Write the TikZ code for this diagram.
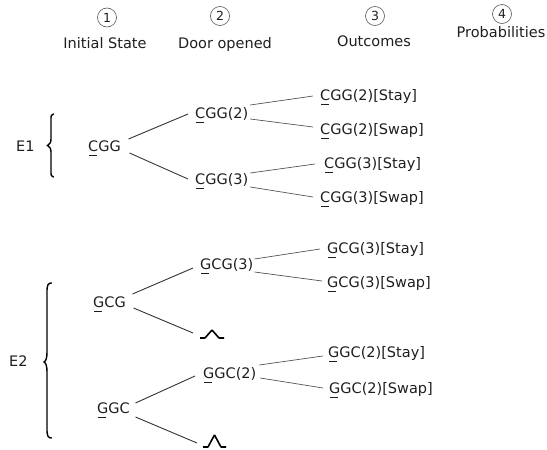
\documentclass[tikz,border=0pt]{standalone}
\usepackage{fontspec}
\setmainfont{DejaVu Sans}
\newcommand\fl[1]{\makebox[0pt][l]{\hspace{1pt}\smash{\rule[-4.5pt]{7.5pt}{0.8pt}}}#1}
\definecolor{txt}{HTML}{1E1E1E}
\definecolor{ln}{HTML}{333333}
\definecolor{lnb}{HTML}{555555}
\begin{document}
\begin{tikzpicture}[x=1pt,y=-1pt,
 lbl/.style={inner sep=0pt,text height=11pt,text depth=3pt,anchor=base west,font=\fontsize{14.5}{16}\selectfont,text=txt},
 hdr/.style={inner sep=0pt,anchor=base,font=\fontsize{14.5}{16}\selectfont,text=txt},
 num/.style={circle,draw=lnb,line width=0.6pt,minimum size=19pt,inner sep=0pt,font=\fontsize{12.5}{14}\selectfont,text=txt},
 edgeA/.style={draw=ln,line width=0.9pt},
 edgeB/.style={draw=lnb,line width=0.7pt},
 hat/.style={draw=black,line width=1.6pt,rounded corners=0.4pt},
 brc/.style={draw=black,line width=1.4pt,line cap=round}]
\useasboundingbox (0,0) rectangle (547,450);

% header
\node[num] (n1) at (107,17.5) {1};
\node[num] (n2) at (220,16) {2};
\node[num] (n3) at (375,16) {3};
\node[num] (n4) at (502,14) {4};
\node[hdr] (t1) at (105,48) {Initial State};
\node[hdr] (t2) at (225,48) {Door opened};
\node[hdr] (t3) at (374,46) {Outcomes};
\node[hdr] (t4) at (501,37) {Probabilities};

% E1
\node[lbl] (e1) at (16,151) {E1};
\draw[brc] (53.5,114) .. controls (51,114) and (51,116) .. (51,120) -- (51,139)
  .. controls (51,143) and (49.5,144) .. (47.5,145.5)
  .. controls (49.5,147) and (51,148) .. (51,152) -- (51,171)
  .. controls (51,175) and (51,177) .. (53.5,177);

\node[lbl] (cgg) at (88,151) {\fl{C}GG};
\node[lbl] (cggA) at (195,118) {\fl{C}GG(2)};
\node[lbl] (cggB) at (195,184) {\fl{C}GG(3)};
\node[lbl] (cggAst) at (320,100) {\fl{C}GG(2)[Stay]};
\node[lbl] (cggAsw) at (320,134) {\fl{C}GG(2)[Swap]};
\node[lbl] (cggBst) at (324,168) {\fl{C}GG(3)[Stay]};
\node[lbl] (cggBsw) at (320,202) {\fl{C}GG(3)[Swap]};

\draw[edgeA] ([xshift=7.5pt,yshift=8pt]cgg.east) -- ([xshift=-7pt]cggA.west);
\draw[edgeA] ([xshift=8.5pt,yshift=-6pt]cgg.east) -- ([xshift=-7pt,yshift=1pt]cggB.west);
\draw[edgeB] ([xshift=1.7pt,yshift=9pt]cggA.east) -- ([xshift=-7pt]cggAst.west);
\draw[edgeB] ([xshift=1.7pt,yshift=-5pt]cggA.east) -- ([xshift=-7pt,yshift=3pt]cggAsw.west);
\draw[edgeB] ([xshift=1.7pt,yshift=7pt]cggB.east) -- ([xshift=-9pt]cggBst.west);
\draw[edgeB] ([xshift=1.7pt,yshift=-7pt]cggB.east) -- ([xshift=-7pt,yshift=1pt]cggBsw.west);

% E2
\node[lbl] (e2) at (9,366) {E2};
\draw[brc] (51.5,283) .. controls (48,283) and (47,285) .. (47,292) -- (47,352)
  .. controls (47,358) and (46,361) .. (44,362)
  .. controls (46,363) and (47,366) .. (47,372) -- (47,429)
  .. controls (47,436) and (48,438) .. (51.5,438);

\node[lbl] (gcg) at (93,307) {\fl{G}CG};
\node[lbl] (gcgB) at (200,269) {\fl{G}CG(3)};
\node[lbl] (gcgBst) at (327,253) {\fl{G}CG(3)[Stay]};
\node[lbl] (gcgBsw) at (327,287) {\fl{G}CG(3)[Swap]};
\coordinate (h1) at (200,338);
\draw[hat] (h1) -- ++(5,0) -- ++(7,-8) -- ++(7,8) -- ++(5,0);

\node[lbl] (ggc) at (97,413) {\fl{G}GC};
\node[lbl] (ggcA) at (203,378) {\fl{G}GC(2)};
\node[lbl] (ggcAst) at (328,357) {\fl{G}GC(2)[Stay]};
\node[lbl] (ggcAsw) at (329,393) {\fl{G}GC(2)[Swap]};
\coordinate (h2) at (203,447);
\draw[hat] (h2) -- ++(5,0) -- ++(6.5,-12) -- ++(6.5,12) -- ++(5,0);

\draw[edgeA] ([xshift=6.5pt,yshift=9pt]gcg.east) -- ([xshift=-7pt,yshift=-3pt]gcgB.west);
\draw[edgeA] ([xshift=7.5pt,yshift=-5pt]gcg.east) -- ([xshift=-7pt,yshift=5pt]h1);
\draw[edgeB] ([xshift=1pt,yshift=6pt]gcgB.east) -- ([xshift=-7pt]gcgBst.west);
\draw[edgeB] ([xshift=1pt,yshift=-7pt]gcgB.east) -- ([xshift=-5pt,yshift=2pt]gcgBsw.west);

\draw[edgeA] ([xshift=5.5pt,yshift=6pt]ggc.east) -- ([xshift=-8pt,yshift=-2pt]ggcA.west);
\draw[edgeA] ([xshift=5.5pt,yshift=-8pt]ggc.east) -- ([xshift=-6pt,yshift=4pt]h2);
\draw[edgeB] ([xshift=2.7pt,yshift=9pt]ggcA.east) -- ([xshift=-5pt,yshift=-3pt]ggcAst.west);
\draw[edgeB] ([xshift=3.7pt,yshift=-4pt]ggcA.east) -- ([xshift=-6pt,yshift=1pt]ggcAsw.west);
\end{tikzpicture}
\end{document}
